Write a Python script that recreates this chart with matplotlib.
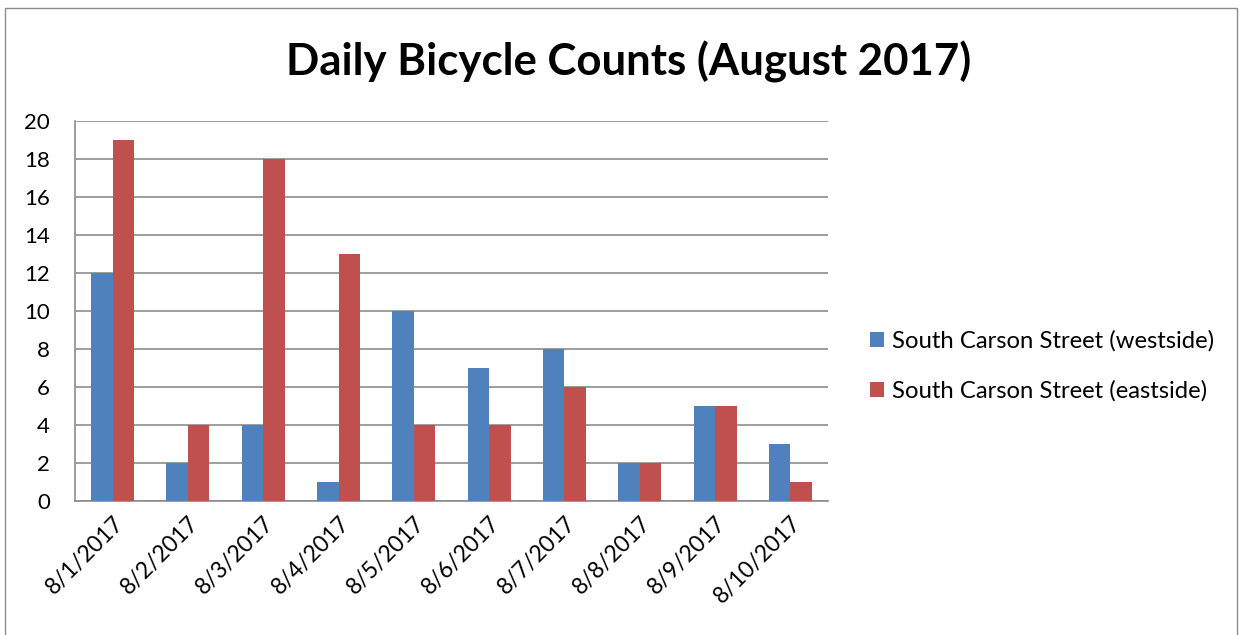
import matplotlib
matplotlib.use("Agg")
import matplotlib.pyplot as plt
import numpy as np
from matplotlib.patches import Rectangle

dates = ["8/1/2017", "8/2/2017", "8/3/2017", "8/4/2017", "8/5/2017",
         "8/6/2017", "8/7/2017", "8/8/2017", "8/9/2017", "8/10/2017"]
westside = [12, 2, 4, 1, 10, 7, 8, 2, 5, 3]
eastside = [19, 4, 18, 13, 4, 4, 6, 2, 5, 1]
series_names = ["South Carson Street (westside)", "South Carson Street (eastside)"]
yticks = [0, 2, 4, 6, 8, 10, 12, 14, 16, 18, 20]

plt.rcParams['font.family'] = ['Lato', 'DejaVu Sans']

W, H = 1241, 635
fig = plt.figure(figsize=(W / 100, H / 100), dpi=100)
fig.patches.append(Rectangle((5 / W, -0.01), (1237 - 5) / W, (635 - 8) / H + 0.01,
                             transform=fig.transFigure, fill=False,
                             edgecolor='#8c8c8c', linewidth=1.0))

ax = fig.add_axes([75 / W, 1 - 501 / H, (828 - 75) / W, (501 - 121) / H])
x = np.arange(len(dates))
bw = 0.285
ax.bar(x - bw / 2, westside, bw, color='#4F81BD', label=series_names[0], zorder=3)
ax.bar(x + bw / 2, eastside, bw, color='#C0504D', label=series_names[1], zorder=3)

ax.set_xlim(-0.5, len(dates) - 0.5)
ax.set_ylim(0, 20)
ax.set_yticks(yticks)
ax.set_yticklabels([str(v) for v in yticks], fontsize=16)
ax.yaxis.grid(True, color='#8c8c8c', linewidth=1.2, zorder=0)
ax.set_xticks(x)
ax.set_xticklabels(dates, rotation=45, ha='right', rotation_mode='anchor', fontsize=16.5)
ax.tick_params(axis='both', length=0)
ax.tick_params(axis='y', pad=18)
ax.tick_params(axis='x', pad=8)
for s in ['top', 'right']:
    ax.spines[s].set_visible(False)
for s in ['left', 'bottom']:
    ax.spines[s].set_color('#8c8c8c')
    ax.spines[s].set_linewidth(1.2)

fig.text(629 / W, 1 - 62 / H, "Daily Bicycle Counts (August 2017)", ha='center', va='center',
         fontsize=31.5, fontweight='bold')

fig.legend(loc='center left', bbox_to_anchor=(848 / W, 1 - 366 / H), frameon=False,
           fontsize=17.2, handlelength=0.6, handleheight=0.6, handletextpad=0.35,
           labelspacing=1.2)

fig.savefig("out.png", dpi=100)
